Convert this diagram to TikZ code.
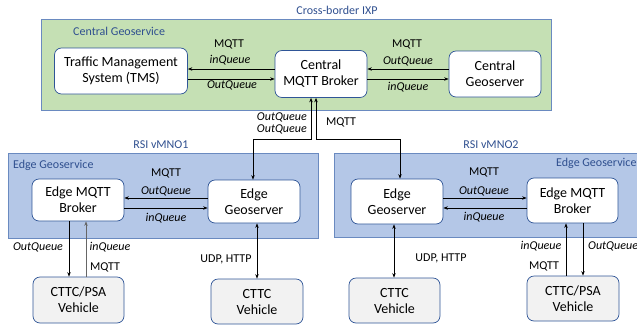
\documentclass[tikz,border=0pt]{standalone}
\usepackage{fontspec}
\setmainfont{Carlito}
\usetikzlibrary{arrows.meta}
\definecolor{gfill}{HTML}{C5E0B4}
\definecolor{bfill}{HTML}{B4C7E7}
\definecolor{vfill}{HTML}{F2F2F2}
\definecolor{bord}{HTML}{2F5597}
\definecolor{obord}{HTML}{6A8AC0}
\definecolor{ttl}{HTML}{2F4F8F}
\tikzset{
  comp/.style={draw=bord, line width=0.7pt, fill=white, rounded corners=7pt, align=center, font=\fontsize{14}{16}\selectfont, inner sep=0pt},
  veh/.style={comp, fill=vfill},
  area/.style={draw=obord, line width=0.7pt},
  lbl/.style={font=\fontsize{12}{13}\selectfont, inner sep=0pt},
  ilbl/.style={lbl, font=\fontsize{12}{13}\selectfont\itshape},
  ttlbl/.style={lbl, text=ttl},
  conn/.style={line width=0.7pt, -{Stealth[length=4.5pt,width=3.5pt]}},
  bconn/.style={line width=0.7pt, {Stealth[length=4.5pt,width=3.5pt]}-{Stealth[length=4.5pt,width=3.5pt]}},
}
\begin{document}
\begin{tikzpicture}[x=1pt,y=-1pt]
\useasboundingbox (0,0) rectangle (637,327);
\clip (0,0) rectangle (637,327);
% areas
\draw[area, fill=gfill] (41,19) rectangle (551,110);
\draw[area, fill=bfill] (8,153) rectangle (318,238);
\draw[area, fill=bfill] (334,153) rectangle (660,237);
\node[ttlbl] (tixp) at (337,10) {Cross-border IXP};
\node[ttlbl, anchor=west] (tcg) at (73,31) {Central Geoservice};
\node[ttlbl] (tr1) at (161,145) {RSI vMNO1};
\node[ttlbl, anchor=west] (teg1) at (13,165) {Edge Geoservice};
\node[ttlbl] (tr2) at (491,145) {RSI vMNO2};
\node[ttlbl, anchor=west] (teg2) at (556,163) {Edge Geoservice};
% nodes
\node[comp, minimum width=133, minimum height=46] (tms) at (121,71) {Traffic Management\\System (TMS)};
\node[comp, minimum width=92, minimum height=47] (cb) at (321,74) {Central\\MQTT Broker};
\node[comp, minimum width=92, minimum height=46] (cg) at (495,74) {Central\\Geoserver};
\node[comp, minimum width=92, minimum height=42] (eb1) at (78,200) {Edge MQTT\\Broker};
\node[comp, minimum width=92, minimum height=43] (eg1) at (254,201.5) {Edge\\Geoserver};
\node[comp, minimum width=92, minimum height=45] (eg2) at (397,201.5) {Edge\\Geoserver};
\node[comp, minimum width=91, minimum height=45] (eb2) at (572.5,200.5) {Edge MQTT\\Broker};
\node[veh, minimum width=91, minimum height=46] (v1) at (78.5,300) {CTTC/PSA\\Vehicle};
\node[veh, minimum width=92, minimum height=45] (cv1) at (257,301.5) {CTTC\\Vehicle};
\node[veh, minimum width=91, minimum height=45] (cv2) at (394.5,300.5) {CTTC\\Vehicle};
\node[veh, minimum width=92, minimum height=45] (v2) at (573,298.5) {CTTC/PSA\\Vehicle};
% central connectors
\draw[conn] (cb.west |- 0,69) -- (tms.east |- 0,69);
\draw[conn] (tms.east |- 0,79) -- (cb.west |- 0,79);
\node[lbl] (l1) at (229,44) {MQTT};
\node[ilbl] (l2) at (230,60) {inQueue};
\node[ilbl] (l3) at (232,85) {OutQueue};
\draw[conn] (cg.west |- 0,69) -- (cb.east |- 0,69);
\draw[conn] (cb.east |- 0,79) -- (cg.west |- 0,79);
\node[lbl] (l4) at (407,44) {MQTT};
\node[ilbl] (l5) at (408,61) {OutQueue};
\node[ilbl] (l6) at (408,87) {inQueue};
% broker to edges
\coordinate (k1) at (311,139);
\coordinate (k2) at (253,139);
\coordinate (k3) at (316,139);
\coordinate (k4) at (400,139);
\draw[bconn] (311,0 |- cb.south) -- (k1) -- (k2) -- (253,0 |- eg1.north);
\draw[bconn] (316,0 |- cb.south) -- (k3) -- (k4) -- (400,0 |- eg2.north);
\node[ilbl, anchor=east] (l7) at (307,117) {OutQueue};
\node[ilbl, anchor=east] (l8) at (307,129) {OutQueue};
\node[lbl] (l9) at (341,122) {MQTT};
% edge 1
\draw[conn] (eg1.west |- 0,198) -- (eb1.east |- 0,198);
\draw[conn] (eb1.east |- 0,208) -- (eg1.west |- 0,208);
\node[lbl] (l10) at (166,173) {MQTT};
\node[ilbl] (l11) at (166,191) {OutQueue};
\node[ilbl] (l12) at (166,218) {inQueue};
\draw[conn] (69,0 |- eb1.south) -- (69,0 |- v1.north);
\draw[conn, draw=black!60] (86,0 |- v1.north) -- (86,0 |- eb1.south);
\node[ilbl] (l13) at (38,247) {OutQueue};
\node[ilbl] (l14) at (110,247) {inQueue};
\node[lbl] (l15) at (105,267) {MQTT};
\draw[bconn] (257,0 |- eg1.south) -- (257,0 |- cv1.north);
\node[lbl] (l16) at (226,259) {UDP, HTTP};
% edge 2
\draw[conn] (eg2.east |- 0,198) -- (eb2.west |- 0,198);
\draw[conn] (eb2.west |- 0,208) -- (eg2.east |- 0,208);
\node[lbl] (l17) at (484,172) {MQTT};
\node[ilbl] (l18) at (484,191) {OutQueue};
\node[ilbl] (l19) at (484,217) {inQueue};
\draw[conn] (566,0 |- v2.north) -- (566,0 |- eb2.south);
\draw[conn] (583,0 |- eb2.south) -- (583,0 |- v2.north);
\node[ilbl] (l20) at (541,246) {inQueue};
\node[ilbl, anchor=west] (l21) at (588,246) {OutQueue};
\node[lbl] (l22) at (544,266) {MQTT};
\draw[bconn] (394,0 |- eg2.south) -- (394,0 |- cv2.north);
\node[lbl] (l23) at (441,258) {UDP, HTTP};
\end{tikzpicture}
\end{document}
